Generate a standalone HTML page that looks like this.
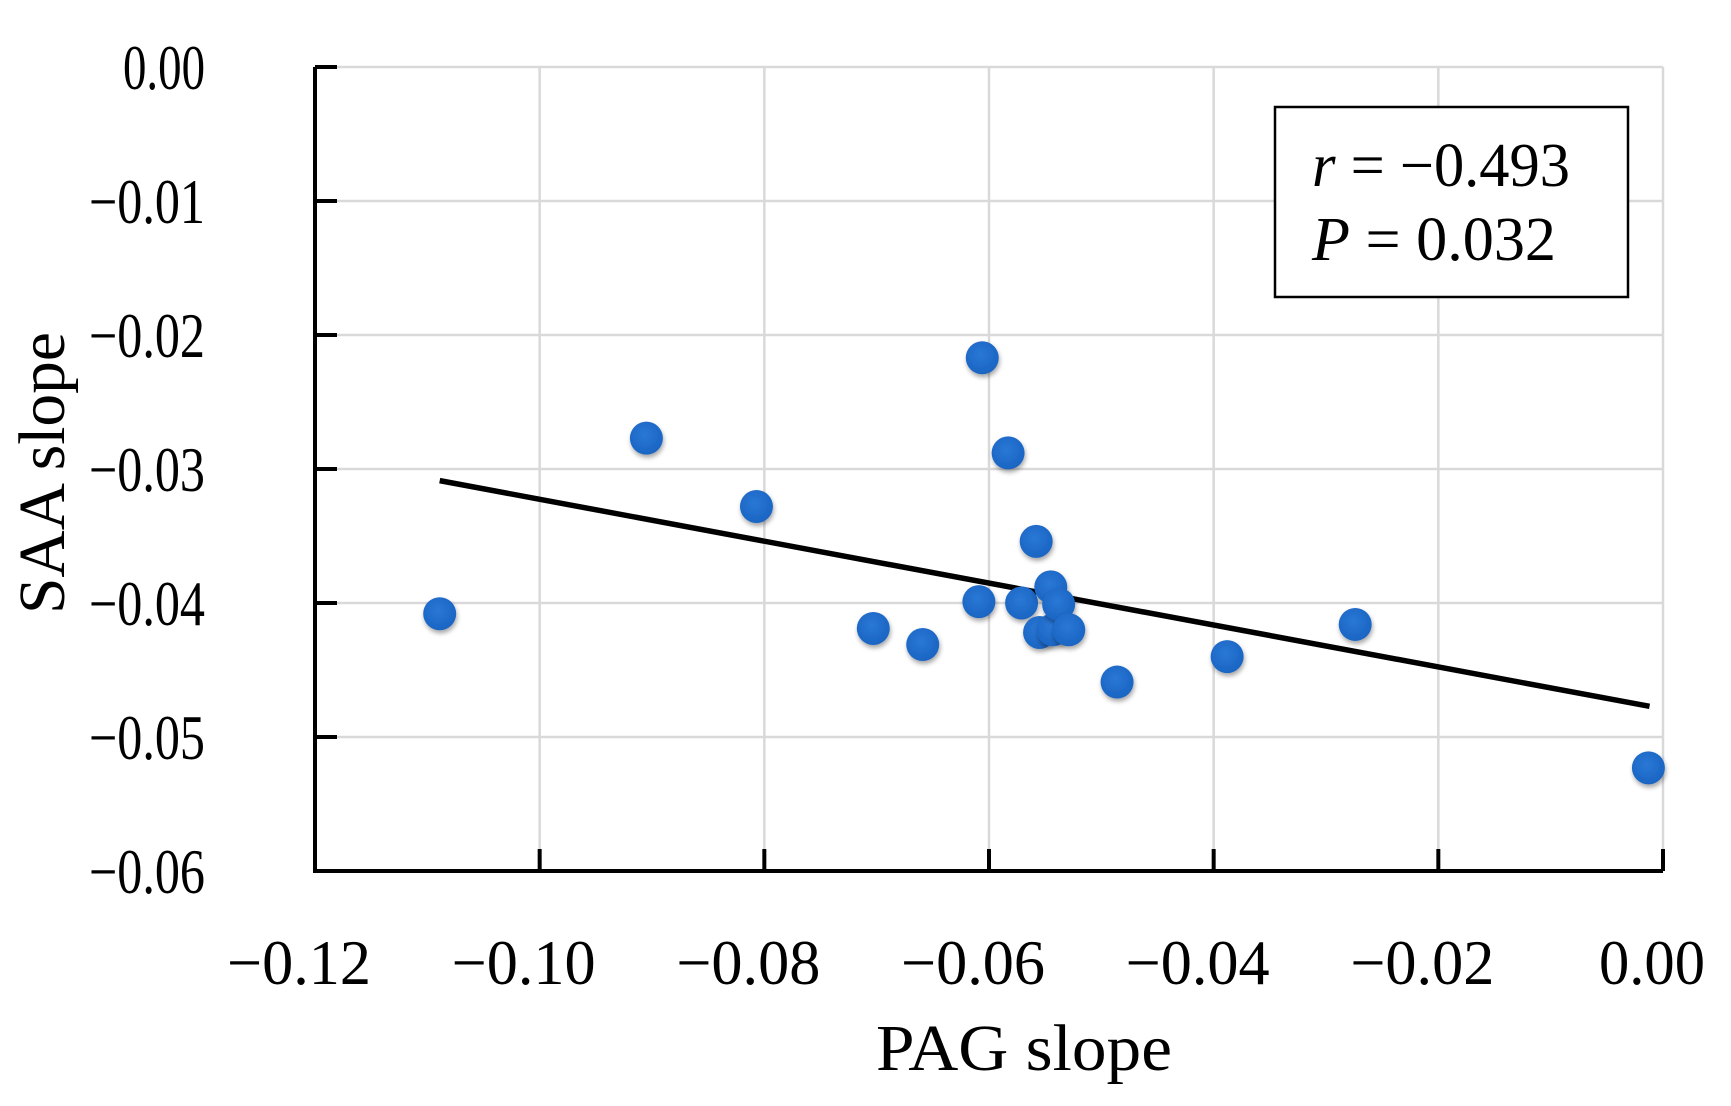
<!DOCTYPE html>
<html><head><meta charset="utf-8"><style>
html,body{margin:0;padding:0;background:#fff;}
svg{display:block;font-family:"Liberation Serif",serif;}
</style></head><body>
<svg id="chart" width="1731" height="1106" viewBox="0 0 1731 1106" xmlns="http://www.w3.org/2000/svg">
<defs>
<radialGradient id="dot" cx="45%" cy="40%" r="60%"><stop offset="0" stop-color="#2a78d6"/><stop offset="1" stop-color="#1a64c2"/></radialGradient>
<filter id="sh" x="-50%" y="-50%" width="200%" height="200%"><feDropShadow dx="1" dy="3" stdDeviation="2.5" flood-color="#000" flood-opacity="0.35"/></filter>
</defs>
<g id="grid"></g>
<g id="axes"></g>
<g id="trend"></g>
<g id="points"></g>
<g id="labels"></g>
<text x="1024" y="1070" font-size="66" text-anchor="middle" textLength="296" lengthAdjust="spacingAndGlyphs">PAG slope</text>
<text transform="translate(64,473) rotate(-90)" font-size="66" text-anchor="middle" textLength="282" lengthAdjust="spacingAndGlyphs">SAA slope</text>
<g>
<rect x="1275" y="107" width="353" height="190" fill="#fff" stroke="#000" stroke-width="2.5"/>
<text x="1312" y="186" font-size="62" textLength="258" lengthAdjust="spacingAndGlyphs"><tspan font-style="italic">r</tspan> = −0.493</text>
<text x="1312" y="260" font-size="62" textLength="244" lengthAdjust="spacingAndGlyphs"><tspan font-style="italic">P</tspan> = 0.032</text>
</g>
</svg>
<script>
const xTicks = [-0.12, -0.10, -0.08, -0.06, -0.04, -0.02, 0.00];
const yTicks = [0.00, -0.01, -0.02, -0.03, -0.04, -0.05, -0.06];
const xTickLabels = ["−0.12","−0.10","−0.08","−0.06","−0.04","−0.02","0.00"];
const yTickLabels = ["0.00","−0.01","−0.02","−0.03","−0.04","−0.05","−0.06"];
const pagSlope = [-0.1089,-0.0905,-0.0807,-0.0703,-0.0659,-0.0609,-0.0606,-0.0583,-0.0571,-0.0558,-0.0555,-0.0545,-0.0543,-0.0538,-0.0529,-0.0486,-0.0388,-0.0274,-0.0013];
const saaSlope = [-0.0408,-0.0277,-0.0328,-0.0419,-0.0431,-0.0399,-0.0217,-0.0288,-0.0400,-0.0354,-0.0422,-0.0388,-0.0420,-0.0401,-0.0420,-0.0459,-0.0440,-0.0416,-0.0523];
const trendX = [-0.1089, -0.0012];
const trendSlope = -0.1564;
const trendIntercept = -0.0479;

const NS = "http://www.w3.org/2000/svg";
const L = 315, R = 1663, T = 67, B = 871;
const xs = v => L + (v - (-0.12)) / 0.12 * (R - L);
const ys = v => T + (0 - v) / 0.06 * (B - T);
function mk(tag, attrs, parent){const e=document.createElementNS(NS,tag);for(const k in attrs)e.setAttribute(k,attrs[k]);parent.appendChild(e);return e;}
const grid=document.getElementById('grid'), axes=document.getElementById('axes'), labels=document.getElementById('labels');
xTicks.forEach((t,i)=>{
  const x=xs(t);
  if(i>0){const g=mk('line',{x1:x,y1:T,x2:x,y2:B,stroke:'#d9d9d9','stroke-width':2.5},grid);
  
  }
  const tk=mk('line',{x1:x,y1:B,x2:x,y2:B-22,stroke:'#000','stroke-width':4},axes);
  
  
  const lab=xTickLabels[i];
  const neg=lab.length>4;
  const tx=mk('text',{x:x-(neg?16:11),y:984,'font-size':64,'text-anchor':'middle',textLength:neg?144:106,lengthAdjust:'spacingAndGlyphs'},labels);
  tx.textContent=lab;
  
  
});
yTicks.forEach((t,i)=>{
  const y=ys(t);
  if(i<yTicks.length-1){const g=mk('line',{x1:L,y1:y,x2:R,y2:y,stroke:'#d9d9d9','stroke-width':2.5},grid);
  
  }
  const tk=mk('line',{x1:L,y1:y,x2:L+22,y2:y,stroke:'#000','stroke-width':4},axes);
  
  
  const tl=yTickLabels[i];
  const tx=mk('text',{x:205,y:y+22,'font-size':64,'text-anchor':'end',textLength:tl.length>4?116:82,lengthAdjust:'spacingAndGlyphs'},labels);
  tx.textContent=tl;
  
  
});
const ax=mk('path',{d:`M${L},${T} L${L},${B} L${R},${B}`,fill:'none',stroke:'#000','stroke-width':4},axes);


const tl=mk('line',{x1:xs(trendX[0]),y1:ys(trendIntercept+trendSlope*trendX[0]),x2:xs(trendX[1]),y2:ys(trendIntercept+trendSlope*trendX[1]),stroke:'#000','stroke-width':5.5},document.getElementById('trend'));


const pts=document.getElementById('points');
pagSlope.forEach((v,i)=>{
  const c=mk('circle',{cx:xs(v),cy:ys(saaSlope[i]),r:16.5,fill:'url(#dot)',filter:'url(#sh)'},pts);
  
  
});
</script>
</body></html>
